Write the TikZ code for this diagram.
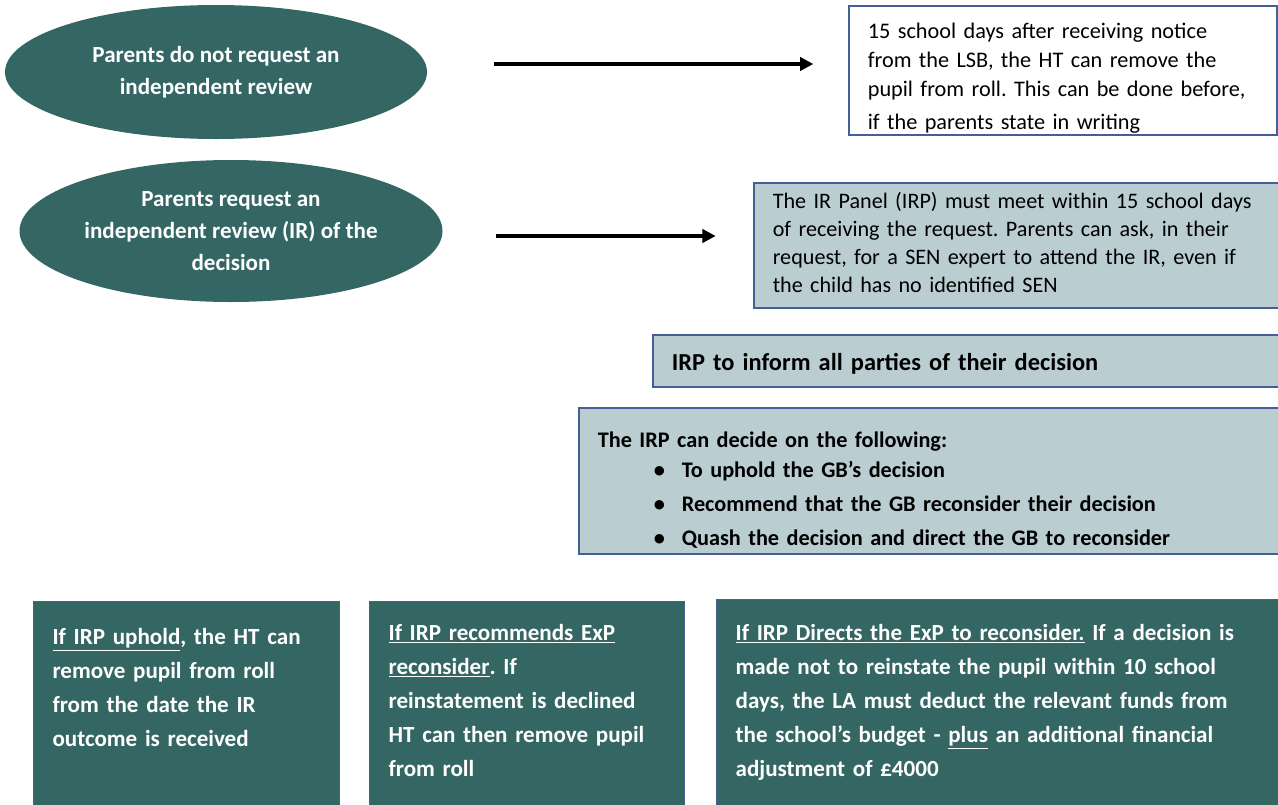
\documentclass[tikz,border=0pt]{standalone}
\usepackage{fontspec}
\setmainfont{Carlito}
\frenchspacing
\usetikzlibrary{shapes.geometric,arrows.meta,positioning}
\definecolor{irpteal}{RGB}{52,102,99}
\definecolor{irpgrey}{RGB}{186,205,209}
\definecolor{irpblue}{RGB}{68,94,150}

\begin{document}
\begin{tikzpicture}[x=0.75pt,y=-0.75pt]

\tikzset{
	decision/.style={
		ellipse,
		fill=irpteal,
		text=white,
		align=center,
		inner sep=0pt,
		font=\fontsize{17.3}{24}\selectfont\bfseries},
	note/.style={
		draw=irpblue,
		rectangle,
		line width=1.2pt,
		anchor=north west,
		align=left,
		inner xsep=14.25pt,
		inner ysep=0pt,
		font=\fontsize{16.7}{21.75}\selectfont},
	panel/.style={
		note,
		fill=irpgrey},
	outcome/.style={
		draw=irpblue,
		rectangle,
		line width=0.8pt,
		fill=irpteal,
		text=white,
		anchor=north west,
		align=left,
		inner xsep=14.25pt,
		inner ysep=0pt,
		text depth=165pt,
		font=\fontsize{17.3}{25.5}\selectfont\bfseries},
	flow/.style={
		-{Triangle[length=10pt,width=10pt]},
		line width=3pt}
}

\useasboundingbox (0,0) rectangle (1278,804);
\clip (0,0) rectangle (1278,804);

\node[decision,minimum width=316.5pt,minimum height=100.5pt] (noreq) at (216,72) {
	Parents do not request an\\independent review};

\node[note,text width=292.5pt,text height=24.75pt,text depth=72pt] (noreqinfo) at (848,5) {
	15 school days after receiving notice\\
	from the LSB, the HT can remove the\\
	pupil from roll. This can be done before,\\[2.5pt]
	if the parents state in writing};

\node[decision,minimum width=317.25pt,minimum height=106.5pt] (req) at (231,231) {
	Parents request an\\independent review (IR) of the\\decision};

\node[panel,text width=369pt,text height=19.5pt,text depth=74.25pt,
	font=\fontsize{16.6}{21}\selectfont] (irpmeet) at (753,182) {
	The IR Panel (IRP) must meet within 15 school days\\
	of receiving the request. Parents can ask, in their\\
	request, for a SEN expert to attend the IR, even if\\
	the child has no identified SEN};

\node[panel,text width=444pt,text height=27pt,text depth=12pt,
	font=\fontsize{18.3}{22}\selectfont\bfseries] (inform) at (652,334) {
	IRP to inform all parties of their decision};

\node[panel,text width=500.25pt,text height=30pt,text depth=79.5pt,
	font=\fontsize{16.7}{25.5}\selectfont\bfseries] (options) at (578,407) {
	The IRP can decide on the following:\\[-3pt]
	\hspace*{42pt}\makebox[21pt][l]{\textbullet}To uphold the GB’s decision\\
	\hspace*{42pt}\makebox[21pt][l]{\textbullet}Recommend that the GB reconsider their decision\\
	\hspace*{42pt}\makebox[21pt][l]{\textbullet}Quash the decision and direct the GB to reconsider};

\node[outcome,text width=201pt,text height=32.25pt] (uphold) at (33,601) {
	\underline{If IRP uphold}, the HT can\\
	remove pupil from roll\\
	from the date the IR\\
	outcome is received};

\node[outcome,text width=207.75pt,text height=29.25pt,right=21.75pt of uphold.north east,anchor=north west] (recommend) {
	\underline{If IRP recommends ExP}\\
	\underline{reconsider}. If\\
	reinstatement is declined\\
	HT can then remove pupil\\
	from roll};

\node[outcome,text width=399pt,text height=30.75pt,right=23.25pt of recommend.north east,anchor=north west,yshift=1.5pt] (direct) {
	\underline{If IRP Directs the ExP to reconsider.} If a decision is\\
	made not to reinstate the pupil within 10 school\\
	days, the LA must deduct the relevant funds from\\
	the school’s budget - \underline{plus} an additional financial\\
	adjustment of £4000};

\draw[flow,shorten <=50pt,shorten >=26pt] ([yshift=6pt]noreq.east) -- ([yshift=6pt]noreq.east -| noreqinfo.west);
\draw[flow,shorten <=39.75pt,shorten >=28pt] ([yshift=-3.75pt]req.east) -- ([yshift=-3.75pt]req.east -| irpmeet.west);

\end{tikzpicture}
\end{document}
